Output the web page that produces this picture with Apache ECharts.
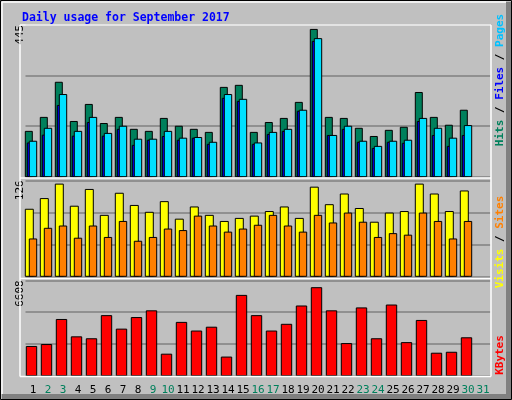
<!DOCTYPE html>
<html>
<head>
<meta charset="utf-8">
<script src="https://cdn.jsdelivr.net/npm/echarts@6/dist/echarts.min.js"></script>
<style>
  html, body { margin: 0; padding: 0; background: #c0c0c0; }
  #chart { width: 512px; height: 400px; }
</style>
</head>
<body>
<div id="chart"></div>
<script>
const days = Array.from({ length: 31 }, (_, i) => String(i + 1));
const weekendDays = [2, 3, 9, 10, 16, 17, 23, 24, 30, 31];

// top panel
const hits = [133, 174, 277, 162, 212, 156, 174, 139, 133, 171, 148, 139, 130, 262, 268, 130,
  159, 171, 218, 432, 174, 171, 142, 118, 136, 145, 247, 174, 151, 195, 0];
const files = [99, 122, 209, 119, 159, 119, 139, 92, 107, 118, 107, 113, 95, 230, 221, 95,
  124, 133, 192, 397, 121, 139, 101, 83, 101, 98, 162, 121, 89, 121, 0];
const pages = [104, 142, 241, 133, 174, 127, 148, 110, 110, 133, 113, 115, 101, 241, 227, 99,
  130, 139, 195, 405, 121, 148, 104, 89, 104, 107, 171, 142, 113, 150, 0];

// middle panel
const visits = [88, 102, 121, 92, 114, 80, 109, 93, 84, 98, 75, 91, 80, 72, 76, 79,
  85, 91, 76, 117, 94, 108, 89, 71, 83, 85, 121, 108, 85, 112, 0];
const sites = [49, 63, 66, 50, 66, 51, 72, 46, 51, 62, 60, 79, 66, 58, 62, 67,
  80, 66, 58, 80, 70, 83, 71, 51, 56, 54, 83, 72, 49, 72, 0];

// bottom panel
const kbytes = [2025, 2158, 3894, 2692, 2559, 4161, 3226, 4027, 4494, 1491, 3693, 3093, 3360, 1290, 5563, 4161,
  3093, 3560, 4828, 6097, 4494, 2225, 4695, 2559, 4895, 2292, 3827, 1558, 1624, 2626, 0];

const yMax = [445, 126, 6608];

const FONT = "DejaVu Sans Mono";

// bar drawn relative to the category center: [left offset, right offset]
const barItem = (color, from, to) => (params, api) => {
  const idx = api.value(0);
  const val = api.value(1);
  if (!val) return null;
  const top = api.coord([idx, val]);
  const base = api.coord([idx, 0]);
  return {
    type: "rect",
    shape: { x: top[0] + from, y: top[1], width: to - from, height: base[1] - top[1] },
    style: { fill: color, stroke: "#000", lineWidth: 1 },
  };
};

const toData = (arr) => arr.map((v, i) => [i, v]);

const barSeries = (arr, grid, color, from, to) => ({
  type: "custom",
  xAxisIndex: grid,
  yAxisIndex: grid,
  renderItem: barItem(color, from, to),
  data: toData(arr),
  silent: true,
});

const grids = [
  { left: 25.5, width: 465, top: 25, height: 151.7 },
  { left: 25.5, width: 465, top: 180.3, height: 96 },
  { left: 25.5, width: 465, top: 280.3, height: 95.4 },
];

const yAxisFor = (i) => ({
  type: "value",
  gridIndex: i,
  min: 0,
  max: yMax[i],
  interval: yMax[i] / 3,
  axisLine: { show: false },
  axisTick: { show: false },
  splitLine: { lineStyle: { color: "#808080", width: 1.5 } },
  axisLabel: {
    formatter: (v) => (Math.abs(v - yMax[i]) < 0.01 ? String(yMax[i]) : ""),
    rotate: 90,
    align: "right",
    verticalAlign: "middle",
    margin: 5,
    color: "#000",
    fontFamily: FONT,
    fontSize: 11,
  },
});

const xAxisFor = (i) => ({
  type: "category",
  gridIndex: i,
  data: days,
  axisLine: { show: false },
  axisTick: { show: false },
  axisLabel: i === 2 ? {
    interval: 0,
    margin: 9,
    fontFamily: FONT,
    fontSize: 11,
    formatter: (v) => (weekendDays.includes(+v) ? `{w|${v}}` : `{d|${v}}`),
    rich: {
      w: { color: "#00805c", fontFamily: FONT, fontSize: 11 },
      d: { color: "#000", fontFamily: FONT, fontSize: 11 },
    },
  } : { show: false },
});

const sideLabel = (x, y, rich, text) => ({
  type: "text",
  x: x,
  y: y,
  rotation: Math.PI / 2,
  style: {
    text: text,
    rich: rich,
    align: "center",
    verticalAlign: "middle",
    font: `bold 11px '${FONT}'`,
  },
});

const frameLine = (x1, y1, x2, y2, color) => ({
  type: "line",
  shape: { x1, y1, x2, y2 },
  style: { stroke: color, lineWidth: 1.5 },
  z: 10,
});

const chart = echarts.init(document.getElementById("chart"));
chart.setOption({
  animation: false,
  backgroundColor: "#c0c0c0",
  title: {
    text: "Daily usage for September 2017",
    left: 17,
    top: 7,
    textStyle: { color: "#0000ff", fontFamily: FONT, fontWeight: "bold", fontSize: 11.5 },
  },
  grid: grids,
  xAxis: [0, 1, 2].map(xAxisFor),
  yAxis: [0, 1, 2].map(yAxisFor),
  series: [
    barSeries(hits, 0, "#00805c", -7.7, -0.7),
    barSeries(files, 0, "#0000ff", -5.7, -1.7),
    barSeries(pages, 0, "#00e0ff", -3.7, 3.7),
    barSeries(visits, 1, "#ffff00", -7.7, 0.3),
    barSeries(sites, 1, "#ff8000", -3.7, 3.7),
    barSeries(kbytes, 2, "#ff0000", -6.7, 3.7),
  ],
  graphic: [
    // outer bevel
    { type: "rect", shape: { x: 0.5, y: 0.5, width: 511, height: 399 }, style: { fill: null, stroke: "#000", lineWidth: 1 } },
    { type: "rect", shape: { x: 506, y: 2, width: 5, height: 397 }, style: { fill: "#808080" } },
    { type: "rect", shape: { x: 2, y: 394, width: 509, height: 5 }, style: { fill: "#808080" } },
    frameLine(2, 2, 506, 2, "#fff"),
    frameLine(2, 2, 2, 394, "#fff"),
    // plot frames
    frameLine(20, 25, 491, 25, "#fff"),
    frameLine(20, 178, 491, 178, "#fff"),
    frameLine(20, 278.5, 491, 278.5, "#fff"),
    frameLine(20, 376.5, 491, 376.5, "#fff"),
    frameLine(20, 25, 20, 376.5, "#fff"),
    frameLine(491, 25, 491, 376.5, "#fff"),
    sideLabel(500, 80,
      { p: { fill: "#00c0ff" }, f: { fill: "#0000ff" }, h: { fill: "#00805c" }, s: { fill: "#000" } },
      "{h|Hits}{s| / }{f|Files}{s| / }{p|Pages}"),
    sideLabel(500, 242,
      { v: { fill: "#ffff00" }, o: { fill: "#ff8000" }, s: { fill: "#000" } },
      "{v|Visits}{s| / }{o|Sites}"),
    sideLabel(500, 355, { k: { fill: "#ff0000" } }, "{k|KBytes}"),
  ],
});
</script>
</body>
</html>
